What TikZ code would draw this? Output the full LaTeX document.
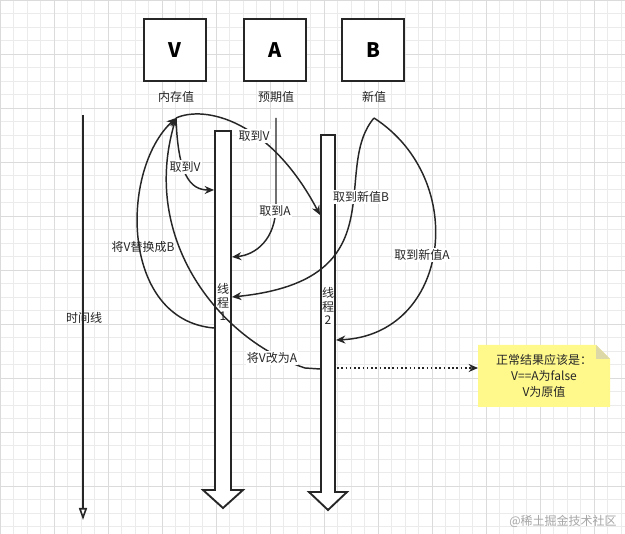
\documentclass[tikz,border=0pt]{standalone}
\usepackage{fontspec}
\setmainfont{Noto Sans CJK SC}
\usetikzlibrary{arrows.meta}
\begin{document}
\begin{tikzpicture}[x=0.75pt,y=-0.75pt,
  lbl/.style={font=\fontsize{9}{11}\selectfont, text=black!85, inner sep=1pt},
  conn/.style={draw=black!85, line width=1.1pt, -{Stealth[length=7pt,width=6pt]}},
  valbox/.style={draw=black!85, line width=1.4pt, minimum width=47pt, minimum height=46pt, font=\fontsize{15}{17}\selectfont\bfseries}]
\useasboundingbox (0,0) rectangle (625,534);
\fill[white] (0,0) rectangle (625,534);
\foreach \i in {0,13.5,...,625} \draw[black!8, line width=0.3pt] (\i,0) -- (\i,534);
\foreach \i in {0,13.5,...,534} \draw[black!8, line width=0.3pt] (0,\i) -- (625,\i);
\foreach \i in {0,54,...,625} \draw[black!14, line width=0.4pt] (\i,0) -- (\i,534);
\foreach \i in {0,54,...,534} \draw[black!14, line width=0.4pt] (0,\i) -- (625,\i);
% value boxes
\node[valbox, fill=white] (V) at (175,50) {V};
\node[valbox, fill=white] (A) at (275,50) {A};
\node[valbox, fill=white] (B) at (373,50) {B};
\node[lbl] (Vl) at (176,97) {内存值};
\node[lbl] (Al) at (276,97) {预期值};
\node[lbl] (Bl) at (374,97) {新值};
\coordinate (vs) at (176,118);
\coordinate (as) at (276,118);
\coordinate (bs) at (374,118);
% timeline
\coordinate (t0) at (83,115);
\coordinate (t1) at (83,520);
\draw[black!85, line width=1.2pt, -{Triangle[open,length=9pt,width=6pt]}] (t0) -- (t1);
\node[lbl] (tl) at (84,318) {时间线};
% thread bars
\draw[black!85, line width=1.4pt, fill=white] (215,131)--(231,131)--(231,490)--(243,490)--(223,508)--(203,490)--(215,490)--cycle;
\draw[black!85, line width=1.4pt, fill=white] (321,135)--(335,135)--(335,492)--(347,492)--(328,510)--(309,492)--(321,492)--cycle;
\node[lbl, align=center, font=\fontsize{9}{10}\selectfont] (t1l) at (223,302) {线\\程\\1};
\node[lbl, align=center, font=\fontsize{9}{10}\selectfont] (t2l) at (328,306) {线\\程\\2};
\coordinate (p1a) at (214,190);
\coordinate (p2a) at (320,215);
\coordinate (p1b) at (232,257);
\coordinate (p1c) at (232,297);
\coordinate (p2b) at (336,340);
\coordinate (p1d) at (214,328);
\coordinate (p2c) at (320,369);
% connectors
\draw[conn] (vs) .. controls (178,175) and (190,190) .. (p1a);
\draw[conn] (vs) .. controls (205,105) and (270,120) .. (p2a);
\draw[conn] (as) -- (276,205) .. controls (276,240) and (255,255) .. (p1b);
\draw[conn] (bs) .. controls (330,170) and (400,280) .. (p1c);
\draw[conn] (bs) .. controls (470,180) and (450,335) .. (p2b);
\draw[conn] (p1d) .. controls (120,320) and (120,170) .. (vs);
\draw[conn] (p2c) -- (305,368) .. controls (220,340) and (140,240) .. (vs);
\node[lbl, fill=white] at (185,167) {取到V};
\node[lbl, fill=white] at (254,136) {取到V};
\node[lbl, fill=white] at (275,211) {取到A};
\node[lbl, fill=white] at (361,197) {取到新值B};
\node[lbl, fill=white] at (422,255) {取到新值A};
\node[lbl] at (143,247) {将V替换成B};
\node[lbl, fill=white] at (272,358) {将V改为A};
% note
\fill[yellow!45!white] (478,345) -- (596,345) -- (610,359) -- (610,407) -- (478,407) -- cycle;
\fill[yellow!60!black!40] (596,345) -- (596,359) -- (610,359) -- cycle;
\node[lbl, align=center, font=\fontsize{9}{12}\selectfont] (note) at (544,376) {正常结果应该是：\\V==A为false\\V为原值};
\coordinate (ne) at (478,368);
\draw[black!85, line width=1.2pt, dotted, -{Stealth[length=7pt,width=6pt]}] (337,368) -- (ne);
\node[lbl, text=black!35] at (563,521) {@稀土掘金技术社区};
\end{tikzpicture}
\end{document}
